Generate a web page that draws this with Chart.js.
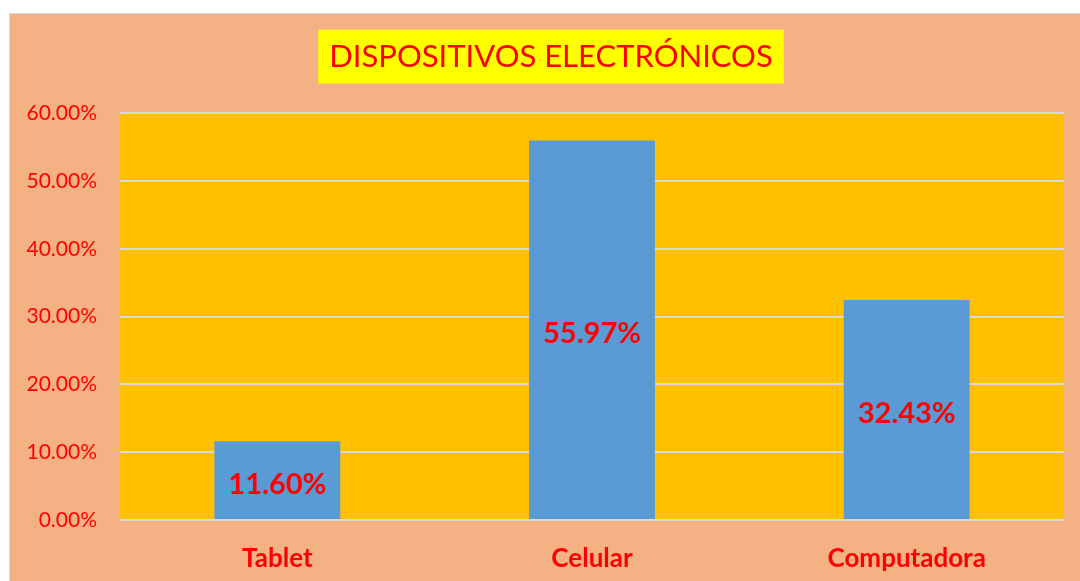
<!DOCTYPE html>
<html>
<head>
<meta charset="utf-8">
<script src="https://cdn.jsdelivr.net/npm/chart.js@4"></script>
<style>
  html, body { margin: 0; padding: 0; background: #ffffff; }
  #frame {
    position: absolute; left: 9px; top: 13px;
    width: 1071px; height: 568px;
    background: #F4B183;
    border-left: 1px solid #d9d9d9; border-top: 1px solid #d9d9d9;
  }
  canvas { display: block; }
</style>
</head>
<body>
<div id="frame"><canvas id="chart" width="1071" height="568"></canvas></div>
<script>
const categories = ['Tablet', 'Celular', 'Computadora'];
const shares = [11.60, 55.97, 32.43];
const yTicks = [0, 10, 20, 30, 40, 50, 60];

const fontFamily = 'Lato, "Open Sans", sans-serif';
const red = '#FF0000';

// yellow box behind the title, orange plot area
const backdrops = {
  id: 'backdrops',
  afterLayout(chart) {
    // the title sits a bit right of the canvas centre
    chart.titleBlock.left += 28;
    chart.titleBlock.width -= 28;
  },
  beforeDraw(chart) {
    const ctx = chart.ctx;
    const area = chart.chartArea;
    ctx.save();
    ctx.fillStyle = '#FFC000';
    ctx.fillRect(area.left, area.top, area.right - area.left, area.bottom - area.top);

    const t = chart.titleBlock;
    const opts = chart.options.plugins.title;
    ctx.font = `${opts.font.size}px ${opts.font.family}`;
    const w = ctx.measureText(opts.text).width + 22;
    const cx = (t.left + t.right) / 2;
    const cy = t.top + opts.padding.top + opts.font.size * 1.2 / 2;
    ctx.fillStyle = '#FFFF00';
    ctx.fillRect(cx - w / 2, cy - 27, w, 54);
    ctx.restore();
  }
};

// value labels in the middle of each bar
const barLabels = {
  id: 'barLabels',
  afterDatasetsDraw(chart) {
    const ctx = chart.ctx;
    const meta = chart.getDatasetMeta(0);
    ctx.save();
    ctx.font = `bold 29px ${fontFamily}`;
    ctx.fillStyle = red;
    ctx.textAlign = 'center';
    ctx.textBaseline = 'middle';
    meta.data.forEach((bar, i) => {
      const mid = (bar.y + bar.base) / 2;
      ctx.fillText(shares[i].toFixed(2) + '%', bar.x, mid + 4);
    });
    ctx.restore();
  }
};

new Chart(document.getElementById('chart'), {
  type: 'bar',
  data: {
    labels: categories,
    datasets: [{
      data: shares,
      backgroundColor: '#5B9BD5',
      borderWidth: 0,
      barPercentage: 0.4,
      categoryPercentage: 1
    }]
  },
  options: {
    responsive: false,
    animation: false,
    layout: { padding: { left: 0, right: 17, top: 0, bottom: 0 } },
    scales: {
      x: {
        afterFit: (scale) => { scale.height = 62; },
        border: { display: false },
        grid: { display: false },
        ticks: {
          color: red,
          padding: 15,
          font: { size: 26, weight: 'bold', family: fontFamily }
        }
      },
      y: {
        min: 0,
        max: 60,
        afterBuildTicks: (scale) => { scale.ticks = yTicks.map(v => ({value: v})); },
        afterFit: (scale) => { scale.width = 110; },
        border: { display: false },
        grid: { color: '#d9d9d9', lineWidth: 2, drawTicks: false },
        ticks: {
          color: red,
          padding: 23,
          font: { size: 21, family: fontFamily },
          callback: (v) => v.toFixed(2) + '%'
        }
      }
    },
    plugins: {
      legend: { display: false },
      tooltip: { enabled: false },
      title: {
        display: true,
        text: 'DISPOSITIVOS ELECTRÓNICOS',
        color: red,
        padding: { top: 24, bottom: 38 },
        font: { size: 31, weight: 'normal', family: fontFamily }
      }
    }
  },
  plugins: [backdrops, barLabels]
});
</script>
</body>
</html>
